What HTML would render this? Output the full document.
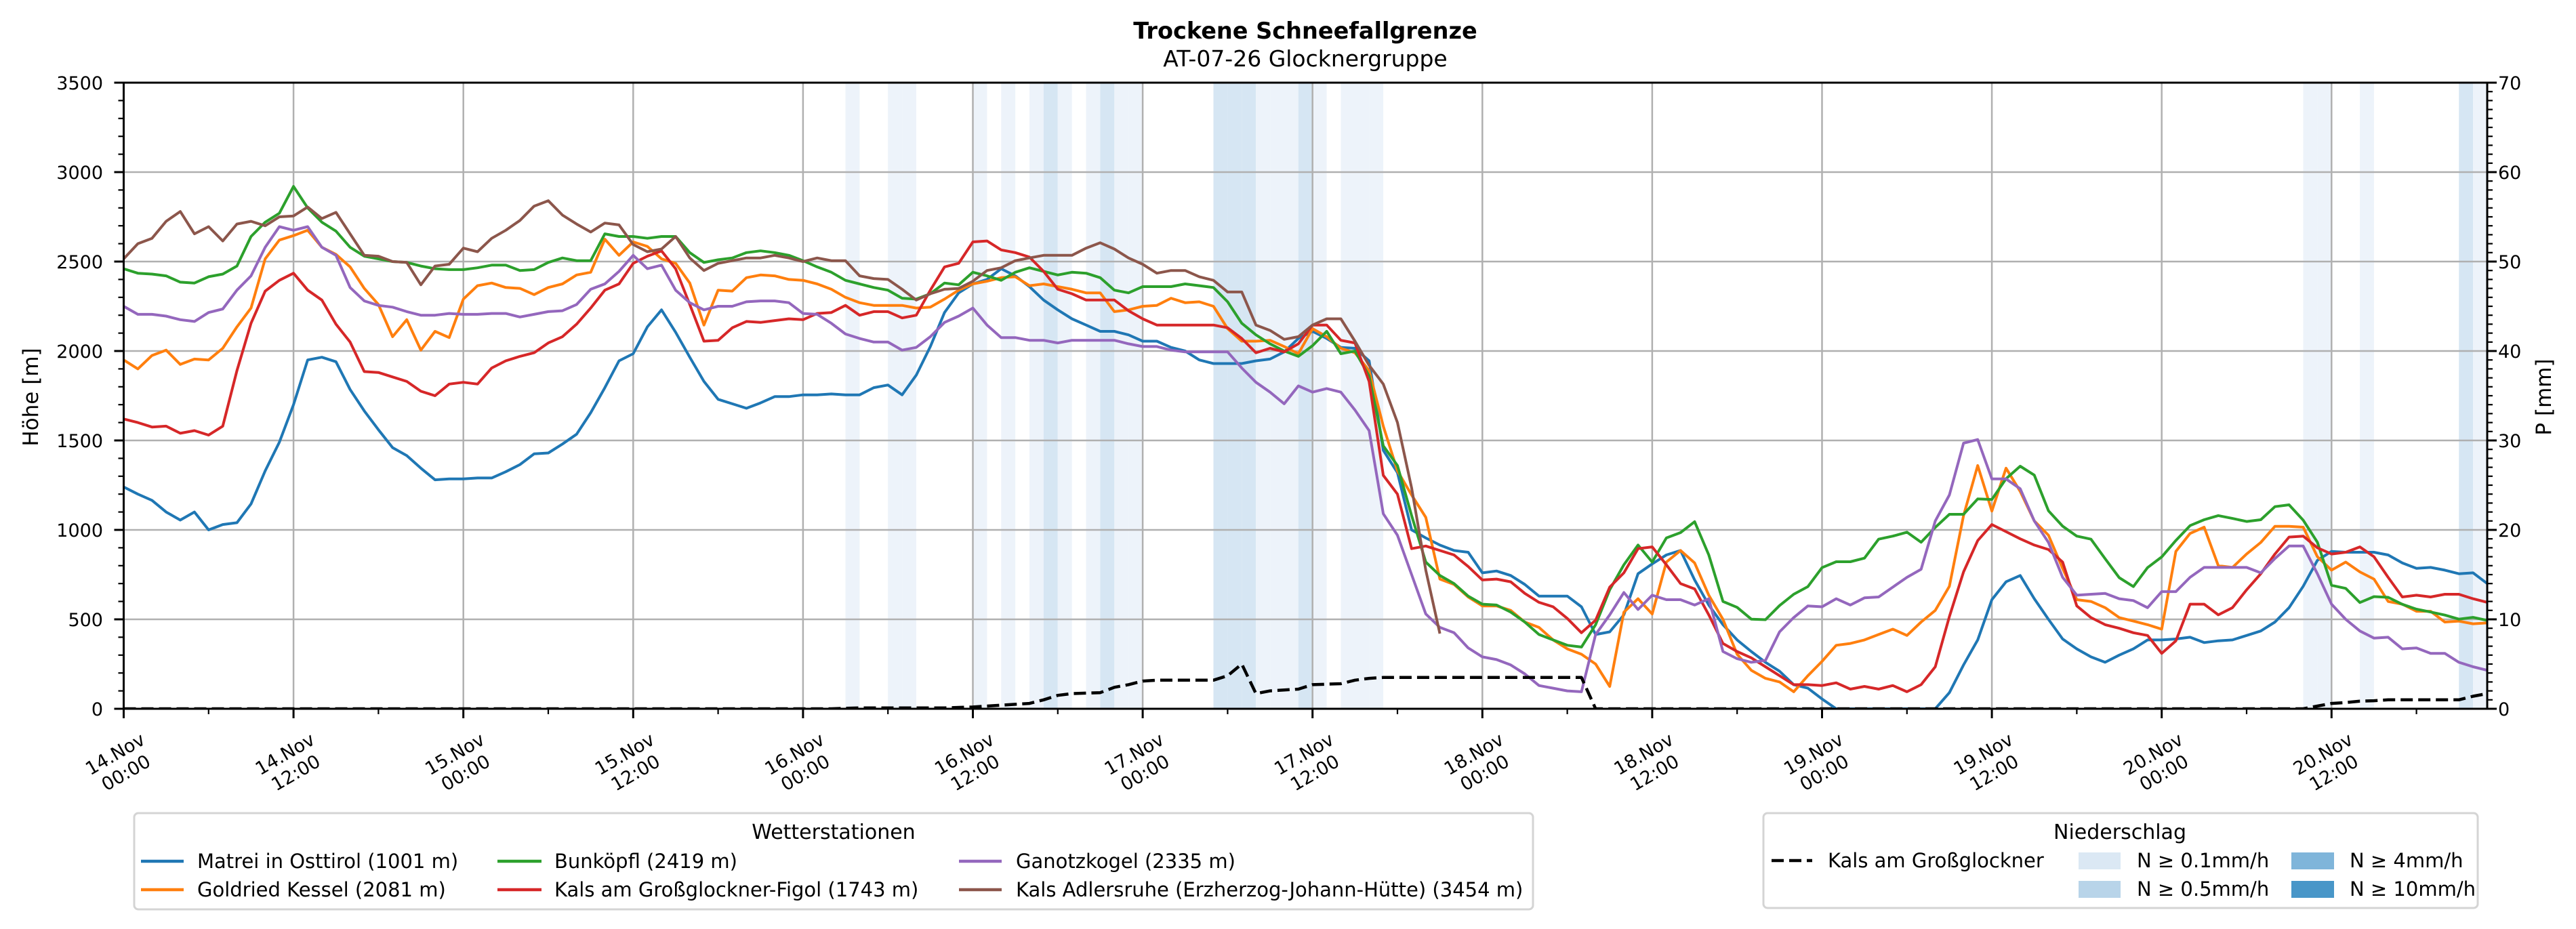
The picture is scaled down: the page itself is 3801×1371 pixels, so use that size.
<!DOCTYPE html>
<html><head><meta charset="utf-8"><title>Trockene Schneefallgrenze</title>
<style>
html,body{margin:0;padding:0;background:#fff;}
svg{display:block;font-family:"DejaVu Sans","Liberation Sans",sans-serif;}
</style></head>
<body>
<svg id="chart" xmlns="http://www.w3.org/2000/svg" width="3801" height="1371" viewBox="0 0 3801 1371">
<rect width="3801" height="1371" fill="#fff"/>
<text x="1926" y="57" text-anchor="middle" font-size="33.5" font-weight="bold">Trockene Schneefallgrenze</text>
<text x="1926" y="98" text-anchor="middle" font-size="33">AT-07-26 Glocknergruppe</text>
<g id="bands"></g>
<g id="grid"></g>
<defs><clipPath id="plotclip"><rect x="183" y="122" width="3487" height="924"/></clipPath></defs>
<g id="series" clip-path="url(#plotclip)"></g>
<g id="axes"></g>
<text transform="translate(56,586) rotate(-90)" text-anchor="middle" font-size="31">Höhe [m]</text>
<text transform="translate(3764,586) rotate(-90)" text-anchor="middle" font-size="31">P [mm]</text>

<g>
<rect x="198" y="1200" width="2064" height="142" rx="6" fill="#fff" stroke="#d4d4d4" stroke-width="3"/>
<text x="1230" y="1238" text-anchor="middle" font-size="30">Wetterstationen</text>
<g><line x1="208" y1="1271" x2="271" y2="1271" stroke="#1f77b4" stroke-width="4.5"/><text x="291" y="1281" font-size="29">Matrei in Osttirol (1001 m)</text></g>
<g><line x1="208" y1="1313" x2="271" y2="1313" stroke="#ff7f0e" stroke-width="4.5"/><text x="291" y="1323" font-size="29">Goldried Kessel (2081 m)</text></g>
<g><line x1="734" y1="1271" x2="799" y2="1271" stroke="#2ca02c" stroke-width="4.5"/><text x="818" y="1281" font-size="29">Bunköpfl (2419 m)</text></g>
<g><line x1="734" y1="1313" x2="799" y2="1313" stroke="#d62728" stroke-width="4.5"/><text x="818" y="1323" font-size="29">Kals am Großglockner-Figol (1743 m)</text></g>
<g><line x1="1415" y1="1271" x2="1478" y2="1271" stroke="#9467bd" stroke-width="4.5"/><text x="1499" y="1281" font-size="29">Ganotzkogel (2335 m)</text></g>
<g><line x1="1415" y1="1313" x2="1478" y2="1313" stroke="#8c564b" stroke-width="4.5"/><text x="1499" y="1323" font-size="29">Kals Adlersruhe (Erzherzog-Johann-Hütte) (3454 m)</text></g>
</g>

<g>
<rect x="2602" y="1200" width="1054" height="140" rx="6" fill="#fff" stroke="#d4d4d4" stroke-width="3"/>
<text x="3128" y="1238" text-anchor="middle" font-size="30">Niederschlag</text>
<g><line x1="2614" y1="1270" x2="2674" y2="1270" stroke="#000" stroke-width="4.5" stroke-dasharray="18,8"/><text x="2697" y="1280" font-size="29">Kals am Großglockner</text></g>
<g><rect x="3067" y="1258" width="62" height="25" fill="#dbe8f4"/><text x="3153" y="1280" font-size="29">N ≥ 0.1mm/h</text></g>
<g><rect x="3067" y="1300" width="62" height="25" fill="#b8d4e9"/><text x="3153" y="1322" font-size="29">N ≥ 0.5mm/h</text></g>
<g><rect x="3381" y="1258" width="63" height="25" fill="#7fb5da"/><text x="3467" y="1280" font-size="29">N ≥ 4mm/h</text></g>
<g><rect x="3381" y="1300" width="63" height="25" fill="#4896c8"/><text x="3467" y="1322" font-size="29">N ≥ 10mm/h</text></g>
</g>
</svg>
<script>
// ---------- data (hourly from 14.Nov 00:00) ----------
const xTickLabels = [["14.Nov","00:00"],["14.Nov","12:00"],["15.Nov","00:00"],["15.Nov","12:00"],["16.Nov","00:00"],["16.Nov","12:00"],["17.Nov","00:00"],["17.Nov","12:00"],["18.Nov","00:00"],["18.Nov","12:00"],["19.Nov","00:00"],["19.Nov","12:00"],["20.Nov","00:00"],["20.Nov","12:00"]];
const yTicks = [0,500,1000,1500,2000,2500,3000,3500];
const y2Ticks = [0,10,20,30,40,50,60,70];
const matrei = [1240,1200,1165,1100,1055,1100,1000,1030,1040,1145,1330,1490,1700,1950,1965,1940,1785,1665,1560,1460,1415,1345,1280,1285,1285,1290,1290,1325,1365,1425,1430,1480,1535,1655,1795,1945,1985,2135,2230,2105,1965,1830,1730,1705,1680,1710,1745,1745,1755,1755,1760,1755,1755,1795,
1810,1755,1865,2025,2215,2325,2375,2400,2460,2420,2360,2285,2230,2180,2145,2110,2110,2090,2055,2055,2020,2000,1950,1930,1930,1930,1945,1955,1995,2070,2110,2070,2020,2015,1945,1445,
1320,1000,955,915,885,875,760,770,745,695,630,630,630,570,415,430,525,755,810,860,885,720,580,470,385,320,260,210,135,115,55,0,
0,0,0,0,0,0,0,
90,245,385,610,710,745,615,500,390,335,290,260,300,335,385,385,390,400,370,380,385,410,435,485,565,685,830,880,875,875,875,860,815,785,790,775,755,760,700];
const goldried = [1950,1900,1975,2005,1925,1955,1950,2015,2135,2240,2515,2620,2645,2675,2580,2540,2470,2350,2260,2080,2175,2005,2110,2075,2290,2365,2380,2355,2350,2315,2355,2375,2425,2440,2625,2535,2610,2585,2515,2490,2380,2145,2340,2335,2410,2425,2420,2400,2395,2375,2345,2300,2270,2255,
2255,2255,2240,2245,2290,2340,2375,2390,2410,2415,2365,2375,2360,2345,2325,2325,2220,2230,2250,2255,2295,2270,2275,2250,2125,2055,2055,2060,2025,1985,2125,2080,2015,1990,1890,1580,
1330,1195,1070,725,695,625,575,575,550,485,455,385,335,305,250,125,540,615,530,820,885,815,635,500,305,215,170,150,95,185,265,355,365,385,415,445,
410,485,550,685,1080,1360,1105,1345,1215,1050,970,785,610,600,565,510,490,470,445,880,980,1015,800,790,865,930,1020,1020,1015,850,775,820,765,725,600,585,545,545,485,490,475,480];
const bunkoepfl = [2460,2435,2430,2420,2385,2380,2415,2430,2475,2640,2720,2770,2920,2800,2720,2670,2580,2530,2515,2500,2495,2475,2460,2455,2455,2465,2480,2480,2450,2455,2495,2520,2505,2505,2655,2640,2640,2630,2640,2640,2550,2495,2510,2520,2550,2560,2550,2535,2505,2470,2440,2395,2375,2355,
2340,2295,2290,2320,2380,2370,2440,2420,2395,2440,2465,2445,2425,2440,2435,2410,2340,2325,2360,2360,2360,2375,2365,2355,2275,2155,2090,2040,2000,1970,2030,2110,1985,2000,1860,1470,
1360,1080,820,745,700,630,585,580,540,485,415,385,355,345,470,665,805,915,820,955,985,1046,860,600,567,501,498,577,640,683,
789,822,822,842,948,965,987,931,1014,1087,1087,1173,1170,1286,1356,1306,1107,1021,965,948,839,733,683,789,849,941,1024,1057,1080,1064,1047,1057,1130,1140,1054,931,690,673,594,627,623,584,557,541,524,501,511,494];
const kalsFigol = [1620,1600,1575,1580,1540,1555,1530,1580,1890,2155,2335,2395,2435,2340,2285,2150,2050,1885,1880,1855,1830,1775,1750,1815,1825,1815,1905,1945,1970,1990,2045,2080,2150,2240,2340,2375,2490,2530,2560,2460,2260,2055,2060,2130,2165,2160,2170,2180,2175,2210,2215,2255,2200,2220,
2220,2185,2200,2340,2470,2490,2610,2615,2565,2550,2525,2445,2345,2320,2285,2285,2285,2225,2180,2145,2145,2145,2145,2145,2130,2070,1990,2015,1995,2040,2145,2145,2060,2045,1830,1305,
1200,895,910,885,860,795,720,725,710,645,595,570,505,425,495,680,760,895,905,805,700,670,525,365,320,285,235,185,135,135,
130,145,110,125,110,130,95,135,235,515,765,940,1030,990,950,915,890,820,575,510,470,450,425,410,310,380,585,585,525,565,665,755,865,960,965,900,865,875,905,850,735,625,635,625,640,640,615,595];
const ganotzkogel = [2250,2205,2205,2195,2175,2165,2215,2235,2340,2420,2580,2695,2675,2695,2580,2535,2355,2280,2255,2245,2220,2200,2200,2210,2205,2205,2210,2210,2190,2205,2220,2225,2260,2345,2375,2445,2535,2460,2480,2340,2270,2230,2250,2250,2275,2280,2280,2270,2210,2205,2155,2095,2070,2050,
2050,2005,2020,2080,2160,2195,2240,2145,2075,2075,2060,2060,2045,2060,2060,2060,2060,2040,2025,2025,2005,1995,1995,1995,1995,1905,1825,1770,1705,1805,1770,1790,1770,1670,1555,1090,
970,750,530,455,425,340,290,275,245,195,130,115,100,95,415,525,650,555,635,610,610,580,615,320,280,260,270,430,510,575,
570,615,580,620,625,680,735,780,1050,1195,1485,1505,1285,1285,1230,1050,930,735,635,640,645,615,605,565,655,655,735,790,790,790,790,760,840,910,910,755,585,500,435,395,400,335,340,310,310,260,235,215];
const adlersruhe = [2515,2600,2630,2725,2780,2655,2695,2615,2710,2725,2700,2750,2755,2805,2740,2775,2655,2535,2530,2500,2495,2370,2475,2485,2575,2555,2630,2675,2730,2810,2840,2760,2710,2665,2715,2705,2595,2555,2570,2640,2520,2450,2490,2505,2520,2520,2535,2520,2500,2520,2505,2505,2420,2405,
2400,2345,2285,2320,2345,2350,2390,2450,2465,2505,2520,2535,2535,2535,2575,2605,2570,2520,2485,2435,2450,2450,2415,2395,2330,2330,2145,2115,2065,2080,2145,2180,2180,2055,1920,1815,1600,1235,775,420];
const precipKals = [0,0,0,0,0,0,0,0,0,0,0,0,0,0,0,0,0,0,0,0,0,0,0,0,0,0,0,0,0,0,0,0,0,0,0,0,0,0,0,0,0,0,0,0,0,0,0,0,0,0,0,
0.05,0.1,0.1,0.1,0.1,0.1,0.1,0.1,0.15,0.2,
0.3,0.4,0.5,0.6,1.0,1.5,1.7,1.75,1.8,2.4,
2.7,3.1,3.2,3.2,3.2,3.2,3.2,3.7,5.0,1.7,
2.0,2.1,2.2,2.7,2.75,2.8,3.2,3.4,3.5,3.5,
3.5,3.5,3.5,3.5,3.5,3.5,3.5,3.5,3.5,3.5,3.5,3.5,3.5,
0,0,0,0,0,0,0,0,0,0,0,0,0,0,0,0,0,0,0,0,0,0,0,0,0,0,0,0,0,0,0,0,0,0,0,0,0,0,0,0,0,0,0,0,0,0,0,0,0,0,0,
0.3,0.6,0.7,0.85,0.9,1.0,1.0,1.0,1.0,1.0,1.0,1.4,1.7];
const bandHours = [51,54,55,60,62,64,65,66,68,69,70,71,77,78,79,80,81,82,83,84,86,87,88,154,155,158,165,166];
const bandLevels = [1,1,1,1,1,1,2,1,1,2,1,1,2,2,2,1,1,1,2,1,1,1,1,1,1,1,2,1];

// ---------- scales ----------
const X0=182.5, X1=3670, Y0=1046, Y1=122, HMAX=167;
const xS = h => X0 + h*(X1-X0)/HMAX;
const yS = v => Y0 - v*(Y0-Y1)/3500;
const y2S = p => Y0 - p*(Y0-Y1)/70;
const NS="http://www.w3.org/2000/svg";
function mk(tag, attrs, parent){const e=document.createElementNS(NS,tag);for(const k in attrs)e.setAttribute(k,attrs[k]);parent.appendChild(e);return e;}

// bands
const bandG=document.getElementById('bands');
const bandColors={1:"#edf3fa",2:"#d6e6f3",3:"#bfdaed",4:"#a3cae4"};
bandHours.forEach((h,i)=>{
  const r=mk('rect',{x:xS(h),y:Y1,width:xS(h+1)-xS(h),height:Y0-Y1,fill:bandColors[bandLevels[i]]},bandG);
  
  
});

// grid
const gridG=document.getElementById('grid');
xTickLabels.forEach((l,i)=>{const x=xS(i*12);mk('line',{x1:x,x2:x,y1:Y1,y2:Y0,stroke:"#b0b0b0","stroke-width":2.5},gridG);});
yTicks.forEach(v=>{const y=yS(v);mk('line',{x1:X0,x2:X1,y1:y,y2:y,stroke:"#b0b0b0","stroke-width":2.5},gridG);});

// series
const serG=document.getElementById('series');
function drawLine(arr,color,name,yFn,dash){
  const pts=arr.map((v,i)=>xS(i).toFixed(1)+","+yFn(v).toFixed(1)).join(" ");
  const attrs={points:pts,fill:"none",stroke:color,"stroke-width":dash?4.5:4,"stroke-linejoin":"round"};
  if(dash)attrs["stroke-dasharray"]="18,8";
  const p=mk('polyline',attrs,serG);
  
  
}
drawLine(matrei,"#1f77b4","line-matrei",yS);
drawLine(goldried,"#ff7f0e","line-goldried",yS);
drawLine(bunkoepfl,"#2ca02c","line-bunkoepfl",yS);
drawLine(kalsFigol,"#d62728","line-kals-figol",yS);
drawLine(ganotzkogel,"#9467bd","line-ganotzkogel",yS);
drawLine(adlersruhe,"#8c564b","line-adlersruhe",yS);
drawLine(precipKals,"#000","line-precip-kals",y2S,true);

// axes
const axG=document.getElementById('axes');
mk('rect',{x:X0,y:Y1,width:X1-X0,height:Y0-Y1,fill:"none",stroke:"#000","stroke-width":3},axG);
for(let v=0;v<=3500;v+=100){const y=yS(v);const major=v%500===0;mk('line',{x1:X0-(major?14:8),x2:X0,y1:y,y2:y,stroke:"#000","stroke-width":major?3:2.2},axG);}
for(let p=0;p<=70;p+=1){const y=y2S(p);const major=p%10===0;mk('line',{x1:X1,x2:X1+(major?14:8),y1:y,y2:y,stroke:"#000","stroke-width":major?3:2.2},axG);}
for(let h=0;h<=HMAX;h+=6){const x=xS(h);const major=h%12===0;mk('line',{x1:x,x2:x,y1:Y0,y2:Y0+(major?14:8),stroke:"#000","stroke-width":major?3:2.2},axG);}
yTicks.forEach(v=>{const t=mk('text',{x:152,y:yS(v)+10,"text-anchor":"end","font-size":27},axG);t.textContent=v;
  
  });
y2Ticks.forEach(p=>{const t=mk('text',{x:3686,y:y2S(p)+10,"font-size":27},axG);t.textContent=p;
  
  });
xTickLabels.forEach((l,i)=>{
  const g=mk('g',{transform:"translate("+(xS(i*12)-5)+",1126) rotate(-30)"},axG);
  
  
  const t1=mk('text',{x:0,y:-6,"text-anchor":"middle","font-size":27},g);t1.textContent=l[0];
  const t2=mk('text',{x:0,y:26,"text-anchor":"middle","font-size":27},g);t2.textContent=l[1];
});
</script>
</body></html>
